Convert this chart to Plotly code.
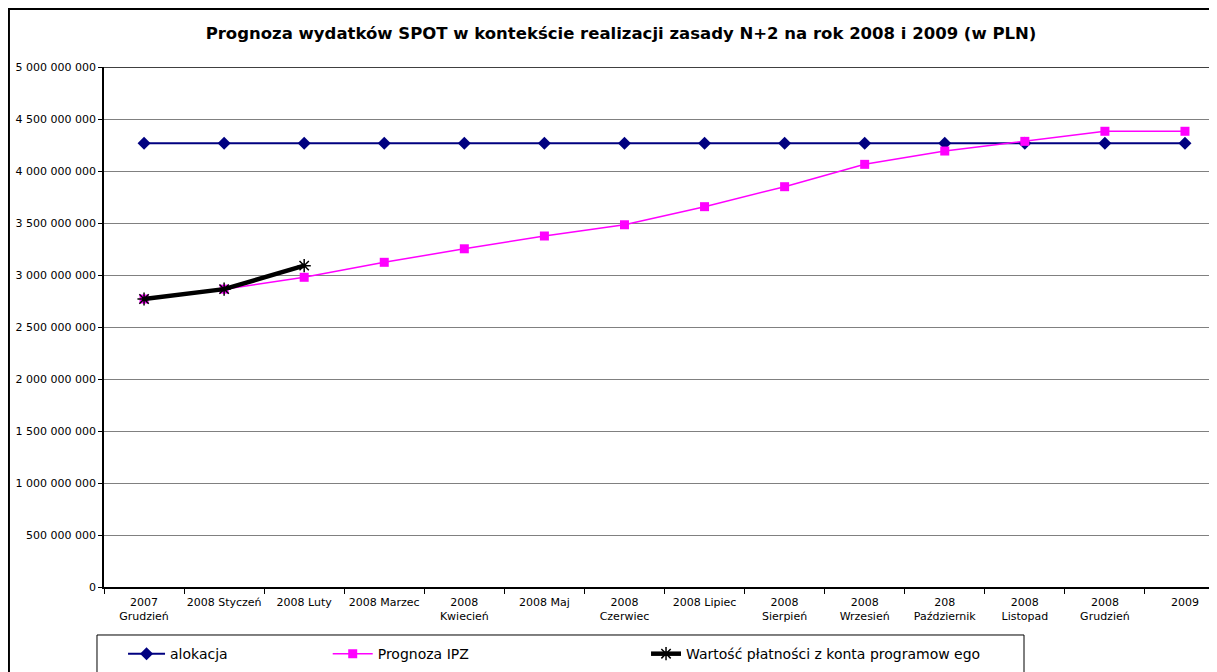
import plotly.graph_objects as go

# categories (x axis labels)
months = [
    "2007<br>Grudzień", "2008 Styczeń", "2008 Luty", "2008 Marzec",
    "2008<br>Kwiecień", "2008 Maj", "2008<br>Czerwiec", "2008 Lipiec",
    "2008<br>Sierpień", "2008<br>Wrzesień", "208<br>Październik",
    "2008<br>Listopad", "2008<br>Grudzień", "2009",
]

alokacja = [4.266e9] * 14
prognoza_ipz = [
    2.769e9, 2.864e9, 2.978e9, 3.122e9, 3.252e9, 3.375e9, 3.483e9,
    3.657e9, 3.849e9, 4.064e9, 4.192e9, 4.285e9, 4.382e9, 4.382e9,
]
platnosci = [2.769e9, 2.864e9, 3.090e9]

FONT = "DejaVu Sans, sans-serif"

fig = go.Figure()

fig.add_trace(go.Scatter(
    x=months, y=alokacja, name="alokacja", mode="lines+markers",
    line=dict(color="#000080", width=2),
    marker=dict(symbol="diamond", size=10, color="#000080"),
    legend="legend",
))
fig.add_trace(go.Scatter(
    x=months, y=prognoza_ipz, name="Prognoza IPZ", mode="lines+markers",
    line=dict(color="#FF00FF", width=1.5),
    marker=dict(symbol="square", size=9, color="#FF00FF"),
    legend="legend2",
))
fig.add_trace(go.Scatter(
    x=months[:3], y=platnosci, name="Wartość płatności z konta programow ego",
    mode="lines+markers",
    line=dict(color="#000000", width=4.5),
    marker=dict(symbol="asterisk-open", size=11, color="#000000",
                line=dict(color="#000000", width=1.5)),
    legend="legend3",
))

# plot area top line
fig.add_shape(type="line", xref="paper", yref="y", x0=0, x1=1, y0=5e9, y1=5e9,
              line=dict(color="#000000", width=1.5), layer="above")
# outer chart border
fig.add_shape(type="rect", xref="paper", yref="paper",
              x0=-0.0854, x1=1.02, y0=-0.25, y1=1.1115,
              line=dict(color="#000000", width=2))
# legend box
fig.add_shape(type="rect", xref="paper", yref="paper",
              x0=-0.0063, x1=0.8266, y0=-0.25, y1=-0.0923,
              line=dict(color="#000000", width=1))

leg = dict(orientation="h", yanchor="middle", xanchor="left", y=-0.129,
           font=dict(family=FONT, size=14, color="#000000"),
           bgcolor="rgba(0,0,0,0)")

fig.update_layout(
    width=1217, height=672,
    margin=dict(l=96, r=8, t=59, b=93, autoexpand=False),
    paper_bgcolor="white", plot_bgcolor="white",
    separators=", ",
    showlegend=True,
    font=dict(family=FONT, size=11, color="#000000"),
    title=dict(
        text="<b>Prognoza wydatków SPOT w kontekście realizacji zasady N+2 na rok 2008 i 2009 (w PLN)</b>",
        x=0.5037, xanchor="center", xref="container",
        y=0.963, yanchor="middle", yref="container",
        font=dict(family=FONT, size=16.5, color="#000000"),
    ),
    legend=dict(leg, x=0.0171, itemwidth=37),
    legend2=dict(leg, x=0.201, itemwidth=40),
    legend3=dict(leg, x=0.487, itemwidth=30),
    xaxis=dict(
        type="category", range=[-0.5, 13.4],
        showgrid=False, showline=True, linecolor="#000000", linewidth=1.5,
        ticks="outside", tickson="boundaries", ticklen=5, tickcolor="#000000",
        tickangle=0, ticklabelstandoff=4,
        tickfont=dict(family=FONT, size=11, color="#000000"),
        zeroline=False,
    ),
    yaxis=dict(
        range=[0, 5e9], dtick=5e8, tickformat=",d",
        showgrid=True, gridcolor="#808080", gridwidth=1,
        showline=True, linecolor="#000000", linewidth=1.5,
        ticks="outside", ticklen=4, tickcolor="#000000",
        tickfont=dict(family=FONT, size=11, color="#000000"),
        zeroline=False,
    ),
)

fig.write_html("out.html")
